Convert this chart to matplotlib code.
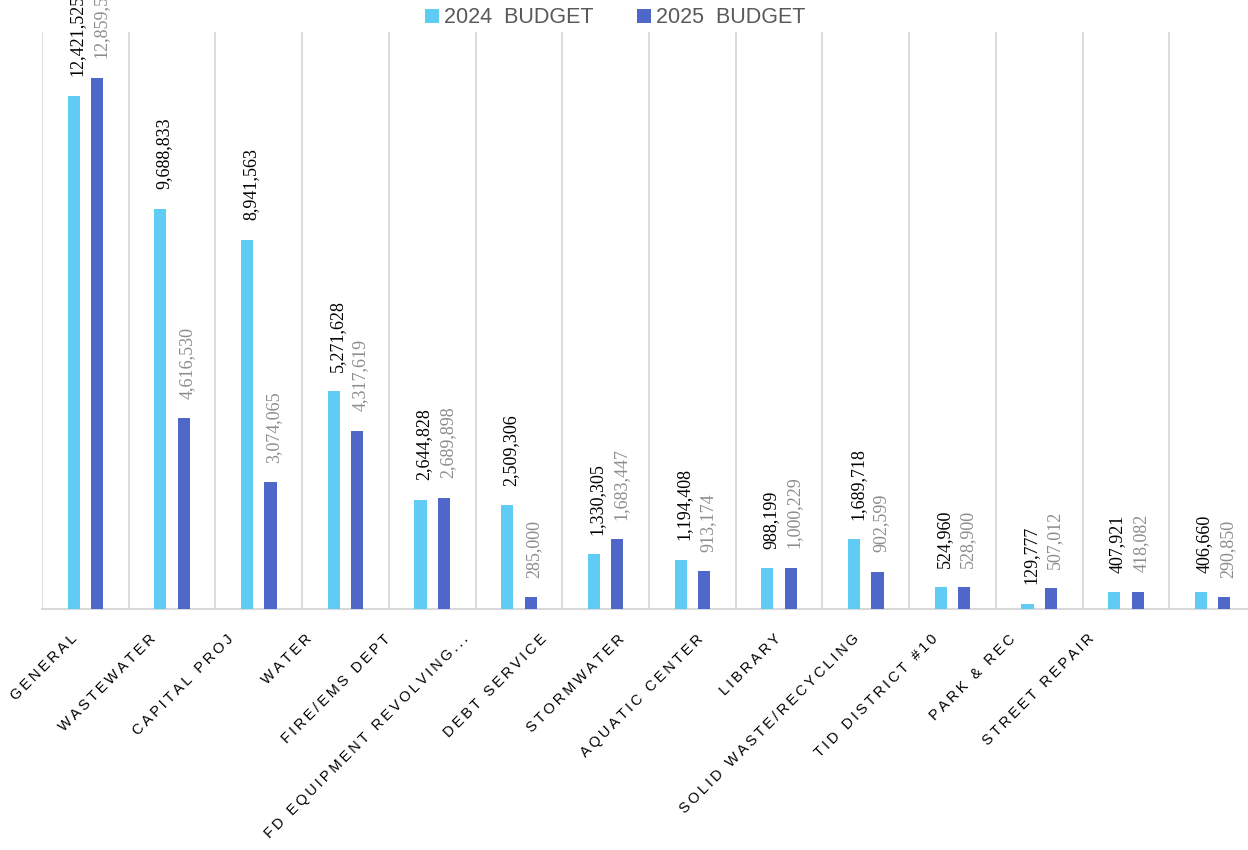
import numpy as np
import matplotlib
matplotlib.use("Agg")
import matplotlib.pyplot as plt
from matplotlib.ticker import FixedLocator, NullFormatter

# fund names and budgets
funds = ["GENERAL", "WASTEWATER", "CAPITAL PROJ", "WATER", "FIRE/EMS DEPT",
         "FD EQUIPMENT REVOLVING...", "DEBT SERVICE", "STORMWATER", "AQUATIC CENTER",
         "LIBRARY", "SOLID WASTE/RECYCLING", "TID DISTRICT #10", "PARK & REC", "STREET REPAIR"]
budget_2024 = [12421525, 9688833, 8941563, 5271628, 2644828, 2509306, 1330305,
               1194408, 988199, 1689718, 524960, 129777, 407921, 406660]
budget_2025 = [12859500, 4616530, 3074065, 4317619, 2689898, 285000, 1683447,
               913174, 1000229, 902599, 528900, 507012, 418082, 290850]

color_2024 = "#5ECCF3"
color_2025 = "#4E67C8"
grid_col = "#D9D9D9"

fig = plt.figure(figsize=(12.48, 8.5), dpi=100)
ax = fig.add_axes([0.0337, 0.2835, 0.9727, 0.6789])

x = np.arange(len(funds))
w = 0.14
off = 0.135
b1 = ax.bar(x - off, budget_2024, w, color=color_2024, label="2024  BUDGET", zorder=3)
b2 = ax.bar(x + off, budget_2025, w, color=color_2025, label="2025  BUDGET", zorder=3)

# value labels
for rect, v in zip(b1, budget_2024):
    ax.annotate(f"{v:,}", (rect.get_x() + rect.get_width() / 2, rect.get_height()),
                xytext=(2.5, 14), textcoords="offset points", rotation=90,
                ha="center", va="bottom", fontsize=13, color="black",
                family="Liberation Serif", annotation_clip=False)
for rect, v in zip(b2, budget_2025):
    ax.annotate(f"{v:,}", (rect.get_x() + rect.get_width() / 2, rect.get_height()),
                xytext=(2.5, 14), textcoords="offset points", rotation=90,
                ha="center", va="bottom", fontsize=13, color="#8C8C8C",
                family="Liberation Serif", annotation_clip=False)

ax.set_xlim(-0.5, len(funds) - 0.5)
ax.set_ylim(0, 13.97e6)

# category separators as minor grid
ax.xaxis.set_minor_locator(FixedLocator(np.arange(len(funds) + 1) - 0.5))
ax.xaxis.set_minor_formatter(NullFormatter())
ax.grid(which="minor", axis="x", color=grid_col, linewidth=1.3, zorder=0)
ax.tick_params(which="both", length=0)
ax.set_yticks([])

for s in ["top", "right", "left"]:
    ax.spines[s].set_visible(False)
ax.spines["bottom"].set_color(grid_col)
ax.spines["bottom"].set_linewidth(1.5)

# rotated category labels (spaced letters)
label_pos = -0.12 + 0.902 * x
ax.set_xticks(label_pos)
spaced = ["\u2009".join(f) for f in funds]
ax.set_xticklabels(spaced, rotation=45, ha="right", va="center",
                   rotation_mode="anchor", fontsize=10.5,
                   family=["Liberation Sans", "DejaVu Sans"])
ax.tick_params(axis="x", which="major", pad=20)

leg = fig.legend(handles=[b1, b2], loc="upper center", bbox_to_anchor=(0.493, 1.014),
                 ncol=2, frameon=False, handlelength=0.65,
                 handleheight=0.65, handletextpad=0.25, columnspacing=2.0,
                 prop={"family": "Liberation Sans", "size": 15.5})
for t in leg.get_texts():
    t.set_color("#595959")

fig.savefig("out.png", dpi=100)
